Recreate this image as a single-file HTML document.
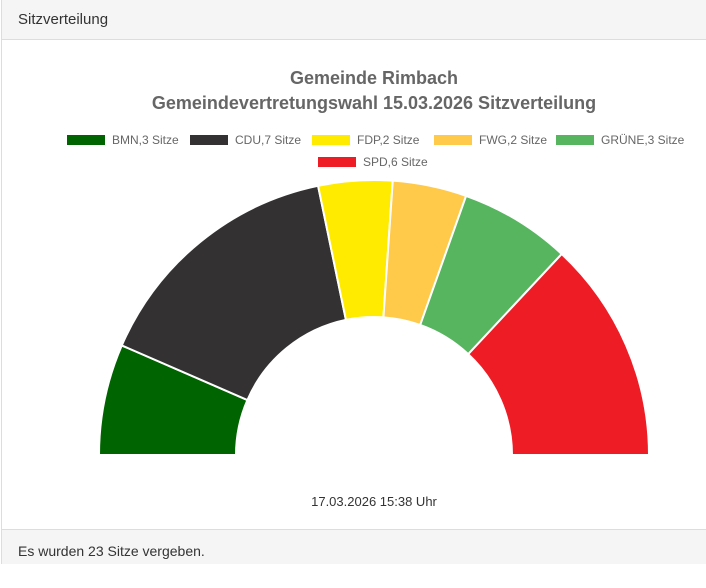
<!DOCTYPE html>
<html><head><meta charset="utf-8"><style>
body{margin:0;width:706px;height:588px;background:#fff;font-family:"Liberation Sans",sans-serif;position:relative;overflow:hidden}
.card{position:absolute;left:1px;top:0;width:720px;height:564px;border:1px solid #ddd;border-top:none;box-sizing:border-box}
.hd{position:absolute;left:0;top:0;width:100%;height:40px;background:#f5f5f5;border-bottom:1px solid #ddd;box-sizing:border-box;font-size:15px;color:#333;padding:11px 0 0 16px}
.ft{position:absolute;left:0;top:529px;width:100%;height:35px;background:#f5f5f5;border-top:1px solid #ddd;box-sizing:border-box;font-size:14px;color:#333;padding:13px 0 0 16px}
</style></head><body>
<div class="card"><div class="hd">Sitzverteilung</div><div class="ft">Es wurden 23 Sitze vergeben.</div></div>
<svg width="706" height="588" style="position:absolute;left:0;top:0" font-family="Liberation Sans, sans-serif">
<text x="374" y="84" text-anchor="middle" font-size="18" font-weight="bold" fill="#666">Gemeinde Rimbach</text>
<text x="374" y="109" text-anchor="middle" font-size="18" font-weight="bold" fill="#666">Gemeindevertretungswahl 15.03.2026 Sitzverteilung</text>
<g font-size="12" fill="#666">
<rect x="67" y="135" width="38" height="10" fill="#006400"/><text x="112" y="144">BMN,3 Sitze</text>
<rect x="190" y="135" width="38" height="10" fill="#333132"/><text x="235" y="144">CDU,7 Sitze</text>
<rect x="312" y="135" width="38" height="10" fill="#ffeb00"/><text x="357" y="144">FDP,2 Sitze</text>
<rect x="434" y="135" width="38" height="10" fill="#ffc94a"/><text x="479" y="144">FWG,2 Sitze</text>
<rect x="556" y="135" width="38" height="10" fill="#57b560"/><text x="601" y="144">GRÜNE,3 Sitze</text>
<rect x="318" y="157" width="38" height="10" fill="#ee1c25"/><text x="363" y="166">SPD,6 Sitze</text>
</g>
<g id="d" stroke="#fff" stroke-width="2"></g>
<text x="374" y="506" text-anchor="middle" font-size="13" fill="#333">17.03.2026 15:38 Uhr</text>
</svg>
<script>
var cx=374,cy=455,R=275,r=138,s=[[3,"#006400"],[7,"#333132"],[2,"#ffeb00"],[2,"#ffc94a"],[3,"#57b560"],[6,"#ee1c25"]],c=0,h="";
function p(rad,a){return [cx-rad*Math.cos(a),cy-rad*Math.sin(a)];}
s.forEach(function(e){var a0=c/23*Math.PI;c+=e[0];var a1=c/23*Math.PI;
var A=p(R,a0),B=p(R,a1),C=p(r,a1),D=p(r,a0);
h+='<path fill="'+e[1]+'" d="M'+A+' A'+R+','+R+' 0 0 1 '+B+' L'+C+' A'+r+','+r+' 0 0 0 '+D+'Z"/>';});
document.getElementById("d").innerHTML=h;
</script>
</body></html>
